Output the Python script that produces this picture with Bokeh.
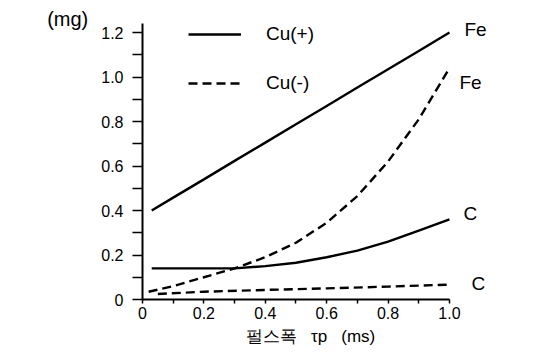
from bokeh.plotting import figure
from bokeh.models import Legend, FixedTicker, Range1d
from bokeh.core.properties import value
from bokeh.embed import file_html
from bokeh.resources import INLINE

# ---- data ----
x_fe_pos = [0.03, 0.1, 0.2, 0.3, 0.4, 0.5, 0.6, 0.7, 0.8, 0.9, 1.0]
fe_pos = [0.400, 0.458, 0.540, 0.623, 0.705, 0.788, 0.870, 0.953, 1.035, 1.117, 1.200]

x_fe_neg = [0.02, 0.1, 0.2, 0.3, 0.4, 0.5, 0.6, 0.7, 0.8, 0.9, 1.0]
fe_neg = [0.035, 0.06, 0.10, 0.14, 0.19, 0.255, 0.345, 0.465, 0.62, 0.81, 1.04]

x_c_pos = [0.03, 0.1, 0.2, 0.3, 0.4, 0.5, 0.6, 0.7, 0.8, 0.9, 1.0]
c_pos = [0.14, 0.14, 0.14, 0.14, 0.15, 0.165, 0.19, 0.22, 0.26, 0.31, 0.36]

x_c_neg = [0.05, 0.2, 0.4, 0.6, 0.8, 1.0]
c_neg = [0.025, 0.035, 0.043, 0.05, 0.058, 0.067]

series_names = ["Cu(+)", "Cu(-)"]
end_labels = ["Fe", "Fe", "C", "C"]
y_ticks = [0, 0.2, 0.4, 0.6, 0.8, 1.0, 1.2]
y_tick_labels = ["0", "0.2", "0.4", "0.6", "0.8", "1.0", "1.2"]
x_ticks = [0, 0.2, 0.4, 0.6, 0.8, 1.0]
x_tick_labels = ["0", "0.2", "0.4", "0.6", "0.8", "1.0"]
y_unit = "(mg)"
NB = "\u00a0"
x_title = "펄스폭" + NB * 3 + "τp" + NB * 3 + "(ms)" + NB * 11

FONT = "Liberation Sans"

p = figure(width=558, height=358, output_backend="svg", toolbar_location=None,
           x_range=Range1d(0, 1.264), y_range=Range1d(0, 1.263),
           min_border_left=142, min_border_right=28, min_border_top=18,
           min_border_bottom=59)
p.grid.visible = False
p.outline_line_color = None
p.background_fill_color = "white"
p.border_fill_color = "white"

for ax in (p.xaxis[0], p.yaxis[0]):
    ax.axis_line_width = 2
    ax.axis_line_color = "black"
    ax.major_tick_line_color = "black"
    ax.minor_tick_line_color = "black"
    ax.major_tick_line_width = 1.5
    ax.minor_tick_line_width = 1.5
    ax.major_tick_in = 0
    ax.minor_tick_in = 0
    ax.major_label_text_font = FONT
    ax.major_label_text_font_size = "16px"
    ax.major_label_text_color = "black"
    ax.axis_label_text_font = FONT
    ax.axis_label_text_font_style = "normal"
    ax.axis_label_text_color = "black"

p.yaxis.bounds = (0, 1.24)
p.yaxis.ticker = FixedTicker(ticks=y_ticks, minor_ticks=[0.1, 0.3, 0.5, 0.7, 0.9, 1.1])
p.yaxis.major_label_overrides = dict(zip(y_ticks, y_tick_labels))
p.yaxis.major_tick_out = 10
p.yaxis.minor_tick_out = 10
p.yaxis.major_label_standoff = 9
p.yaxis.axis_label = y_unit
p.yaxis.axis_label_text_font_size = "20px"
p.yaxis.axis_label_standoff = 10
try:
    p.yaxis.axis_label_orientation = "horizontal"
    p.yaxis.axis_label_align = "end"
except Exception:
    pass

p.xaxis.bounds = (0, 1.0)
p.xaxis.ticker = FixedTicker(ticks=x_ticks, minor_ticks=[0.1, 0.3, 0.5, 0.7, 0.9])
p.xaxis.major_label_overrides = dict(zip(x_ticks, x_tick_labels))
p.xaxis.major_tick_out = 4
p.xaxis.minor_tick_out = 4
p.xaxis.major_label_standoff = 3
p.xaxis.axis_label = x_title
p.xaxis.axis_label_text_font_size = "17px"
p.xaxis.axis_label_standoff = 5

LW = 2.4
DASH = "9 5"
r1 = p.line(x_fe_pos, fe_pos, line_color="black", line_width=LW)
r2 = p.line(x_fe_neg, fe_neg, line_color="black", line_width=LW, line_dash=DASH)
p.line(x_c_pos, c_pos, line_color="black", line_width=LW)
p.line(x_c_neg, c_neg, line_color="black", line_width=LW, line_dash=DASH)

# end labels
end_x = [x_fe_pos[-1], x_fe_neg[-1], x_c_pos[-1], x_c_neg[-1]]
end_y = [fe_pos[-1], fe_neg[-1], c_pos[-1], c_neg[-1]]
p.text(x=end_x, y=end_y, text=end_labels,
       x_offset=[15, 10, 14, 22], y_offset=[-3, 14, -6, -1],
       text_baseline="middle", text_align="left",
       text_font=value(FONT), text_font_size="19px", text_color="black")

legend = Legend(items=[(series_names[0], [r1]), (series_names[1], [r2])],
                location=(46, 205), glyph_width=53, glyph_height=20,
                label_height=20, spacing=27, padding=7, margin=0,
                label_standoff=25, border_line_color=None,
                background_fill_alpha=0,
                label_text_font=FONT, label_text_font_size="19px",
                label_text_color="black",
                label_text_baseline="middle")
p.add_layout(legend)

open("out.html", "w").write(file_html(p, INLINE))
